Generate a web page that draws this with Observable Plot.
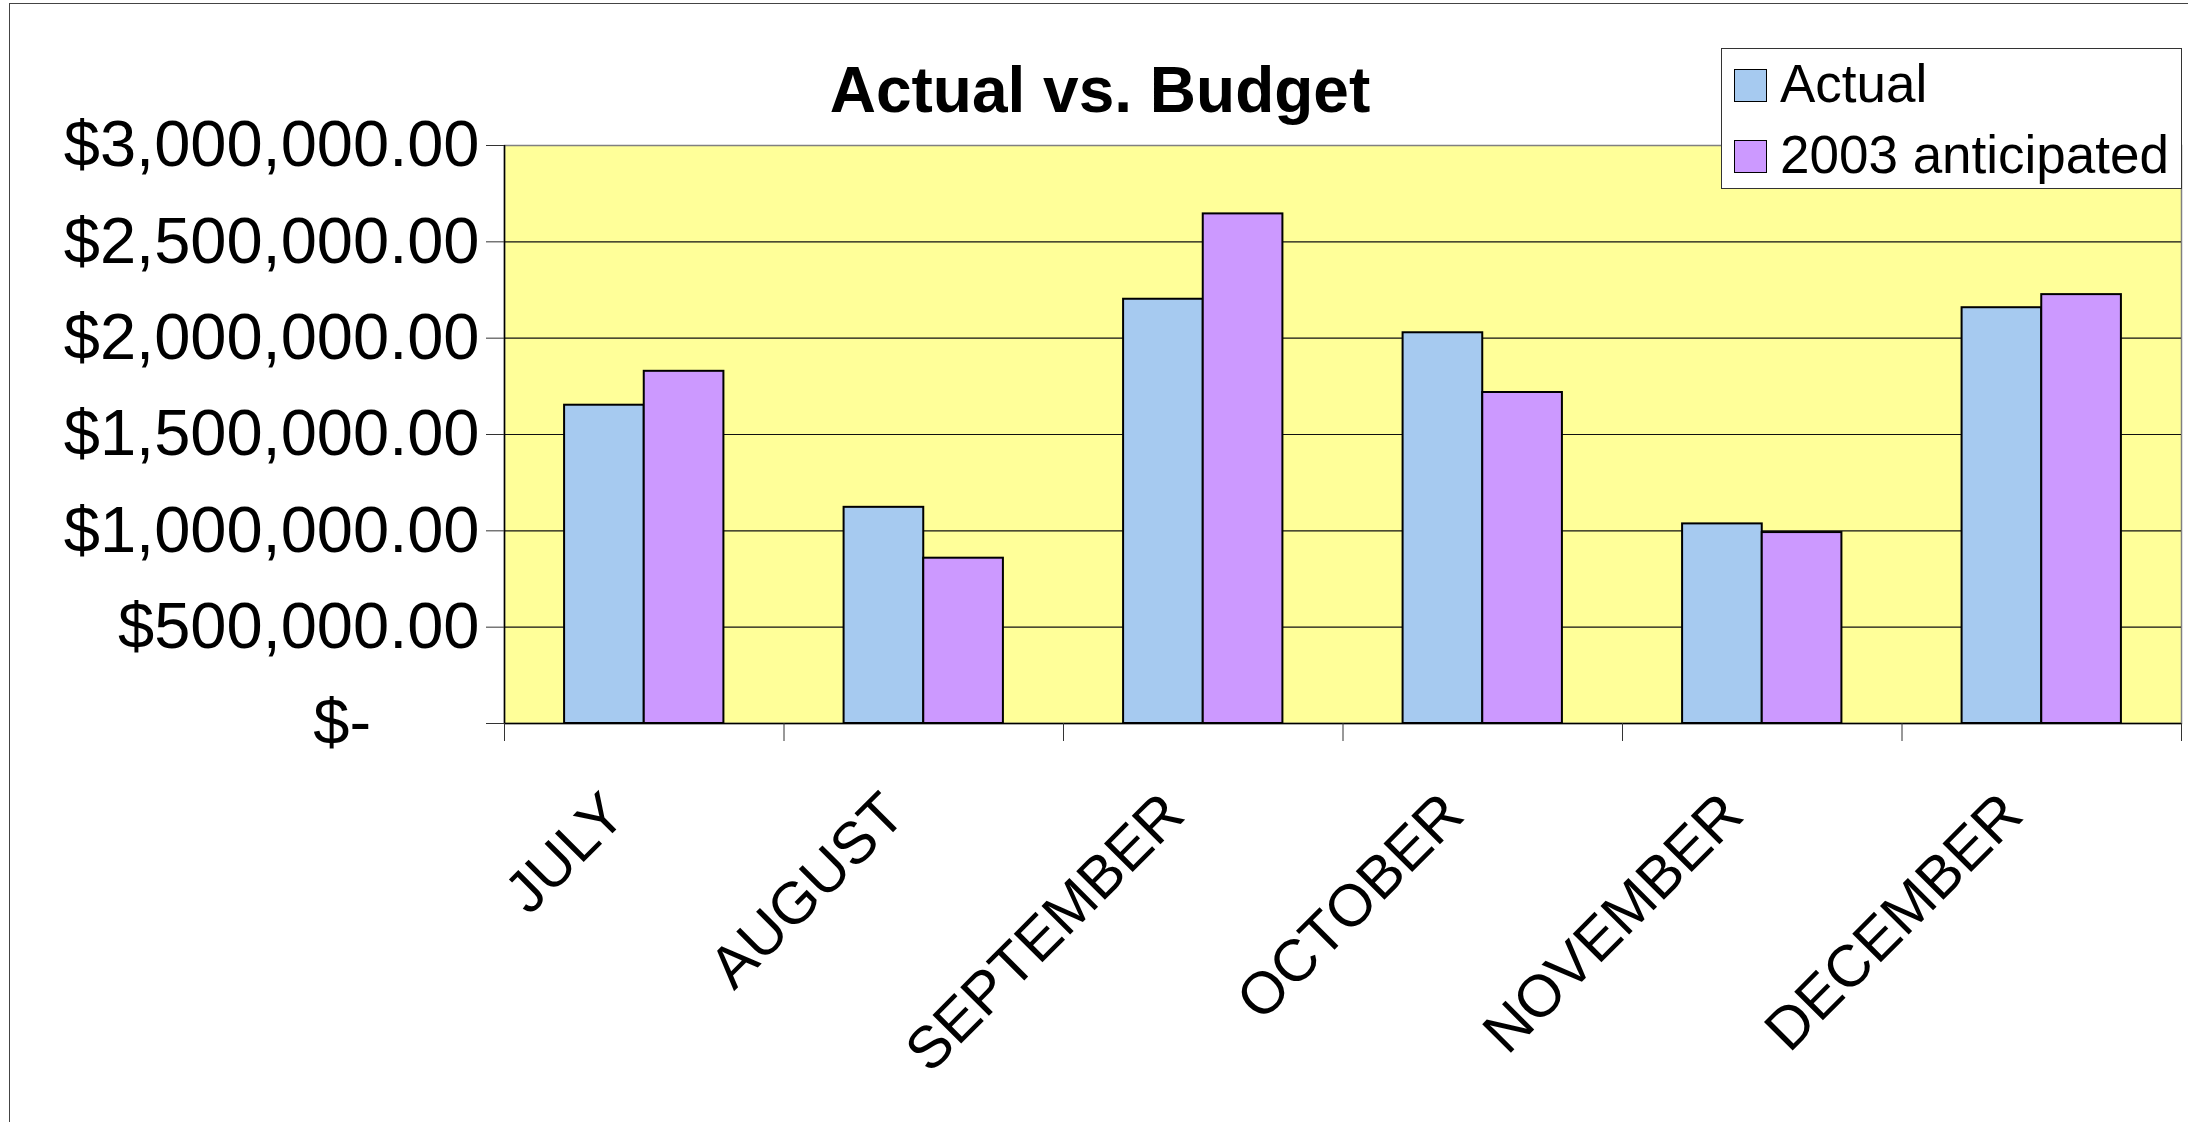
<!DOCTYPE html>
<html>
<head>
<meta charset="utf-8">
<script src="https://cdn.jsdelivr.net/npm/d3@7"></script>
<script src="https://cdn.jsdelivr.net/npm/@observablehq/plot@0.6"></script>
<style>
  html, body { margin: 0; padding: 0; background: #fff; }
  #wrap { position: relative; width: 2188px; height: 1122px; overflow: hidden; font-family: "Liberation Sans", Arial, sans-serif; }
  #border { position: absolute; left: 9px; top: 3px; width: 2300px; height: 1300px; border-left: 1.5px solid #444; border-top: 1.5px solid #444; }
  #chart { position: absolute; left: 0; top: 0; }
  #title { position: absolute; left: 0; width: 2200px; top: 58px; text-align: center; font-weight: bold; font-size: 64px; line-height: 64px; color: #000; }
  #legend { position: absolute; left: 1721px; top: 48px; width: 459px; height: 139px; border: 1.5px solid #333; background: #fff; }
  .item { position: absolute; left: 0; font-size: 53px; line-height: 53px; color: #000; white-space: nowrap; }
  .sw { position: absolute; width: 31px; height: 31px; border: 1.5px solid #000; }
  .lbl { position: absolute; left: 58px; }
</style>
</head>
<body>
<div id="wrap">
  <div id="border"></div>
  <div id="chart"></div>
  <div id="title"></div>
  <div id="legend"></div>
</div>
<script>
const titleText = "Actual vs. Budget";
const months = ["JULY", "AUGUST", "SEPTEMBER", "OCTOBER", "NOVEMBER", "DECEMBER"];
const actual = [1652000, 1122000, 2202000, 2028000, 1036000, 2158000];
const anticipated = [1828000, 858000, 2645000, 1718000, 991000, 2226000];
const seriesNames = ["Actual", "2003 anticipated"];
const seriesColors = ["#A6CAF0", "#CC99FF"];
const yTicks = [0, 500000, 1000000, 1500000, 2000000, 2500000, 3000000];

const rows = months.flatMap((m, i) => [
  {i, month: m, series: seriesNames[0], value: actual[i], k: 0},
  {i, month: m, series: seriesNames[1], value: anticipated[i], k: 1}
]);

const groupStart = 0.215, groupEnd = 0.785;
const half = (groupEnd - groupStart) / 2;

// accounting-style format: zero shows as "$-" followed by padding spaces
const fmtMoney = v => v === 0 ? "$-\u00a0\u00a0\u00a0\u00a0\u00a0\u00a0" : "$" + d3.format(",.2f")(v);

const plot = Plot.plot({
  width: 2188,
  height: 1122,
  marginLeft: 504,
  marginRight: 7,
  marginTop: 145,
  marginBottom: 399,
  style: {fontFamily: "'Liberation Sans', Arial, sans-serif", fontSize: "64px", background: "transparent", color: "#000"},
  x: {type: "linear", domain: [0, months.length], axis: null},
  y: {domain: [0, 3000000], axis: null},
  color: {domain: seriesNames, range: seriesColors},
  marks: [
    Plot.frame({fill: "#FFFF99", stroke: "#808080", strokeWidth: 1.5}),
    Plot.gridY(yTicks.slice(1, -1), {stroke: "#111", strokeOpacity: 1, strokeWidth: 1.2}),
    Plot.rectY(rows, {
      x1: d => d.i + groupStart + d.k * half,
      x2: d => d.i + groupStart + (d.k + 1) * half,
      y1: 0,
      y2: "value",
      fill: "series",
      stroke: "#000",
      strokeWidth: 2
    }),
    Plot.ruleX([0], {stroke: "#000", strokeWidth: 1.5}),
    Plot.ruleY([0], {stroke: "#000", strokeWidth: 1.5}),
    Plot.axisY({ticks: yTicks, tickFormat: fmtMoney, tickSize: 18, tickPadding: 7, fontSize: 65, label: null, stroke: "#333"}),
    Plot.axisX({ticks: d3.range(months.length + 1), tickFormat: () => "", tickSize: 18, label: null, stroke: "#333"}),
    Plot.text(months, {
      x: (d, i) => i + 0.5,
      frameAnchor: "bottom",
      text: d => d,
      rotate: -45,
      textAnchor: "end",
      lineAnchor: "bottom",
      dx: -16,
      dy: 94,
      fontSize: 59,
      fill: "#000"
    })
  ]
});
document.getElementById("chart").appendChild(plot);

document.getElementById("title").textContent = titleText;

const legend = document.getElementById("legend");
const itemTops = [8, 79];
const swTops = [20, 91];
seriesNames.forEach((name, k) => {
  const sw = document.createElement("div");
  sw.className = "sw";
  sw.style.left = "12px";
  sw.style.top = swTops[k] + "px";
  sw.style.background = seriesColors[k];
  legend.appendChild(sw);
  const item = document.createElement("div");
  item.className = "item lbl";
  item.style.top = itemTops[k] + "px";
  item.textContent = name;
  legend.appendChild(item);
});
</script>
</body>
</html>
